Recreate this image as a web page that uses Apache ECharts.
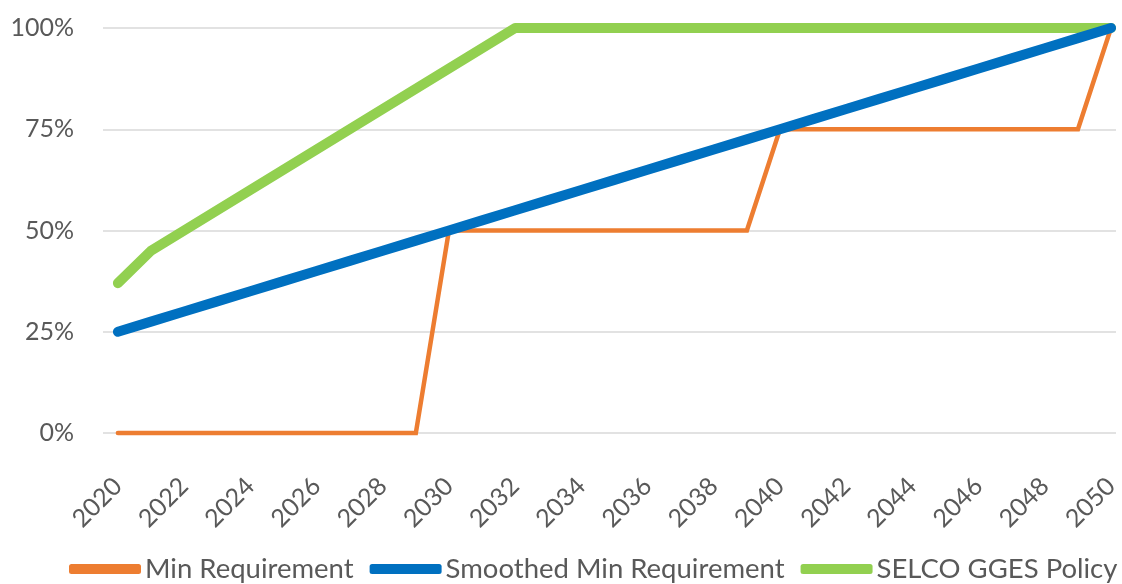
<!DOCTYPE html>
<html><head><meta charset="utf-8">
<script src="https://cdn.jsdelivr.net/npm/echarts@6/dist/echarts.min.js"></script>
<style>html,body{margin:0;padding:0;background:#fff}#c{width:1122px;height:584px}</style>
</head><body><div id="c"></div>
<script>
const years = [2020,2021,2022,2023,2024,2025,2026,2027,2028,2029,2030,2031,2032,2033,2034,2035,2036,2037,2038,2039,2040,2041,2042,2043,2044,2045,2046,2047,2048,2049,2050];
const minRequirement = [0,0,0,0,0,0,0,0,0,0,50,50,50,50,50,50,50,50,50,50,75,75,75,75,75,75,75,75,75,75,100];
const smoothedMin = [25,27.5,30,32.5,35,37.5,40,42.5,45,47.5,50,52.5,55,57.5,60,62.5,65,67.5,70,72.5,75,77.5,80,82.5,85,87.5,90,92.5,95,97.5,100];
const selcoPolicy = [37,45,50,55,60,65,70,75,80,85,90,95,100,100,100,100,100,100,100,100,100,100,100,100,100,100,100,100,100,100,100];
const xTickLabels = [2020,2022,2024,2026,2028,2030,2032,2034,2036,2038,2040,2042,2044,2046,2048,2050];
const yTicks = [0,25,50,75,100];
const seriesNames = ['Min Requirement','Smoothed Min Requirement','SELCO GGES Policy'];

const pair = arr => years.map((y,i)=>[y,arr[i]]);
const FONT = 'Lato';
const chart = echarts.init(document.getElementById('c'));
chart.setOption({
  animation:false,
  grid:{left:103,right:2,top:28,bottom:151,containLabel:false},
  xAxis:{type:'value',min:2019.55,max:2050.15,
    axisLine:{show:false},
    axisTick:{show:false},
    splitLine:{show:false},
    axisLabel:{customValues:xTickLabels,rotate:45,margin:49,color:'#595959',fontFamily:FONT,fontSize:25,formatter:v=>String(v)}
  },
  yAxis:{type:'value',min:0,max:100,interval:25,
    axisLine:{show:false},axisTick:{show:false},
    splitLine:{lineStyle:{color:'#D9D9D9',width:1.5}},
    axisLabel:{margin:29,color:'#595959',fontFamily:FONT,fontSize:25,formatter:v=>v+'%'}
  },
  legend:{left:64,top:550,width:1100,itemWidth:72,itemHeight:10,itemGap:16,
    textStyle:{color:'#595959',fontFamily:FONT,fontSize:27.5,padding:[0,0,0,-1]},
    data:[
      {name:seriesNames[0],icon:'roundRect',itemStyle:{color:'#ED7D31'}},
      {name:seriesNames[1],icon:'roundRect',itemStyle:{color:'#0070C0'}},
      {name:seriesNames[2],icon:'roundRect',itemStyle:{color:'#92D050'}}
    ]},
  series:[
    {name:seriesNames[0],type:'line',data:pair(minRequirement),showSymbol:false,clip:false,z:3,
      lineStyle:{color:'#ED7D31',width:4.5,cap:'round',join:'miter'},itemStyle:{color:'#ED7D31'}},
    {name:seriesNames[1],type:'line',data:pair(smoothedMin),showSymbol:false,clip:false,z:4,
      lineStyle:{color:'#0070C0',width:10,cap:'round',join:'round'},itemStyle:{color:'#0070C0'}},
    {name:seriesNames[2],type:'line',data:pair(selcoPolicy),showSymbol:false,clip:false,z:2,
      lineStyle:{color:'#92D050',width:10,cap:'round',join:'round'},itemStyle:{color:'#92D050'}}
  ]
});
</script></body></html>
